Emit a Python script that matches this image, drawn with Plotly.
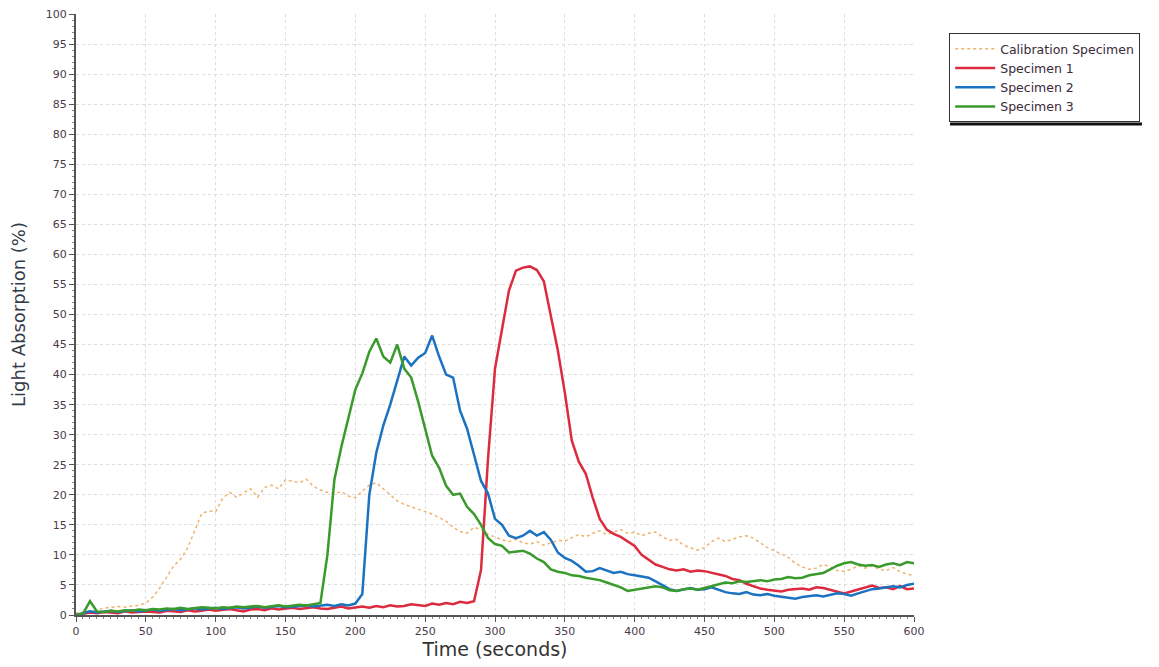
import plotly.graph_objects as go

time_s = list(range(0, 601, 5))

calibration = [0.3, 0.5, 0.8, 1.0, 1.2, 1.3, 1.4, 1.3, 1.5, 1.6,
               2.0, 3.0, 4.5, 6.3, 8.2, 9.3, 11.2, 14.0, 16.9, 17.3,
               17.2, 19.4, 20.4, 19.6, 20.3, 21.0, 19.6, 21.2, 21.6, 21.0,
               22.5, 22.2, 22.0, 22.6, 21.4, 20.8, 20.4, 20.2, 20.5, 19.8,
               19.5, 20.6, 21.6, 22.0, 21.0, 20.0, 19.0, 18.4, 18.0, 17.6,
               17.1, 16.8, 16.2, 15.6, 14.6, 13.9, 13.6, 14.6, 14.2, 13.4,
               13.0, 12.5, 12.2, 12.6, 12.0, 11.8, 12.2, 11.6, 12.0, 12.4,
               12.3, 12.8, 13.4, 13.0, 13.6, 14.0, 13.4, 13.8, 14.2, 13.6,
               13.8, 13.2, 13.6, 13.8, 13.0, 12.4, 12.6, 11.6, 11.2, 10.8,
               11.2, 12.2, 12.8, 12.2, 12.6, 13.0, 13.2, 12.8, 12.0, 11.2,
               10.7, 10.2, 9.6, 8.6, 8.0, 7.6, 7.8, 8.4, 8.0, 7.4,
               7.3, 7.6, 8.2, 7.8, 8.2, 7.6, 7.4, 7.9, 7.2, 6.8,
               6.6]

specimen1 = [0.0, 0.2, 0.4, 0.3, 0.5, 0.4, 0.3, 0.6, 0.4, 0.5,
             0.6, 0.5, 0.4, 0.7, 0.6, 0.5, 0.8, 0.6, 0.7, 0.9,
             0.7, 0.8, 1.0, 0.8, 0.6, 0.9, 1.0, 0.8, 1.1, 0.9,
             1.0, 1.2, 1.0, 1.1, 1.3, 1.1, 1.0, 1.2, 1.4, 1.1,
             1.3, 1.4, 1.2, 1.5, 1.3, 1.6, 1.4, 1.5, 1.8, 1.6,
             1.5, 1.9, 1.7, 2.0, 1.8, 2.2, 2.0, 2.3, 7.5, 26.0,
             41.0, 47.5, 54.0, 57.3, 57.8, 58.0, 57.4, 55.5, 49.5, 44.0,
             37.0, 29.0, 25.5, 23.5, 19.5, 16.0, 14.2, 13.5, 13.0, 12.2,
             11.5, 10.0, 9.2, 8.4, 8.0, 7.6, 7.4, 7.6, 7.2, 7.4,
             7.3, 7.0, 6.8, 6.5, 6.0, 5.8, 5.2, 4.8, 4.4, 4.2,
             4.0, 3.9, 4.2, 4.3, 4.4, 4.2, 4.6, 4.5, 4.2, 3.8,
             3.6, 3.9, 4.2, 4.6, 4.9, 4.5, 4.6, 4.3, 4.8, 4.3,
             4.4]

specimen2 = [0.0, 0.3, 0.6, 0.4, 0.5, 0.7, 0.5, 0.6, 0.8, 0.6,
             0.7, 0.9, 0.7, 0.8, 1.0, 0.8, 0.9, 1.1, 0.9, 1.0,
             1.2, 1.0, 1.1, 1.3, 1.1, 1.2, 1.4, 1.2, 1.3, 1.5,
             1.3, 1.4, 1.5, 1.6, 1.4, 1.6, 1.7, 1.5, 1.8, 1.6,
             1.9, 3.5, 20.0, 27.0, 31.5, 35.0, 39.0, 43.0, 41.5, 42.8,
             43.6, 46.5, 43.0, 40.0, 39.5, 34.0, 31.0, 26.8, 22.3, 20.2,
             16.0, 15.0, 13.2, 12.8, 13.2, 14.0, 13.2, 13.8, 12.5, 10.4,
             9.5, 9.0, 8.2, 7.2, 7.3, 7.8, 7.4, 7.0, 7.2, 6.8,
             6.6, 6.4, 6.2, 5.6, 5.0, 4.3, 4.0, 4.2, 4.5, 4.2,
             4.3, 4.6, 4.2, 3.8, 3.6, 3.5, 3.8, 3.4, 3.3, 3.5,
             3.2, 3.0, 2.8, 2.7, 3.0, 3.2, 3.3, 3.1, 3.4, 3.6,
             3.5, 3.2, 3.6, 4.0, 4.3, 4.4, 4.6, 4.8, 4.6, 5.0,
             5.2]

specimen3 = [0.0, 0.2, 2.3, 0.6, 0.5, 0.7, 0.6, 0.8, 0.7, 0.9,
             0.8, 1.0, 0.9, 1.1, 1.0, 1.2, 1.0, 1.1, 1.3, 1.2,
             1.1, 1.3, 1.2, 1.4, 1.3, 1.4, 1.5, 1.3, 1.5, 1.6,
             1.4, 1.6, 1.7, 1.6, 1.8, 2.0, 10.0, 22.5, 28.0, 33.0,
             37.5, 40.2, 43.8, 46.0, 43.0, 42.0, 45.0, 41.0, 39.5, 35.5,
             31.0, 26.5, 24.5, 21.5, 20.0, 20.2, 18.0, 16.8, 15.0, 12.8,
             11.8, 11.5, 10.4, 10.6, 10.7, 10.2, 9.4, 8.8, 7.6, 7.2,
             7.0, 6.6, 6.5, 6.2, 6.0, 5.8, 5.4, 5.0, 4.6, 4.0,
             4.2, 4.3, 4.5, 4.8, 4.6, 4.1, 4.0, 4.3, 4.4, 4.2,
             4.5, 4.8, 5.2, 5.4, 5.3, 5.6, 5.5, 5.7, 5.8, 5.6,
             5.9, 6.0, 6.3, 6.1, 6.2, 6.6, 6.8, 7.0, 7.6, 8.2,
             8.6, 8.8, 8.4, 8.2, 8.3, 8.0, 8.4, 8.6, 8.3, 8.8,
             8.6]

series_names = ["Calibration Specimen", "Specimen 1", "Specimen 2", "Specimen 3"]
x_ticks = list(range(0, 601, 50))
y_ticks = list(range(0, 101, 5))

fig = go.Figure()
fig.add_trace(go.Scatter(x=time_s, y=calibration, mode="lines", name=series_names[0],
                         line=dict(color="#efb36e", width=1.5, dash="dot")))
fig.add_trace(go.Scatter(x=time_s, y=specimen1, mode="lines", name=series_names[1],
                         line=dict(color="#dc2a3e", width=2.5)))
fig.add_trace(go.Scatter(x=time_s, y=specimen2, mode="lines", name=series_names[2],
                         line=dict(color="#1b72c0", width=2.5)))
fig.add_trace(go.Scatter(x=time_s, y=specimen3, mode="lines", name=series_names[3],
                         line=dict(color="#3a9a2c", width=2.5)))

axis_common = dict(
    showgrid=True, gridcolor="#dddddd", griddash="dot", gridwidth=1,
    zeroline=False, showline=True, linecolor="#555555", linewidth=2,
    ticks="outside", ticklen=5, tickcolor="#555555",
    ticklabeloverflow="allow", automargin=False,
    tickfont=dict(family="DejaVu Sans", size=11, color="#4a3b4a"),
)

fig.update_xaxes(range=[0, 600], tickvals=x_ticks,
                 title=dict(text="Time (seconds)", font=dict(family="DejaVu Sans", size=19, color="#333333"), standoff=5),
                 minor=dict(ticks="outside", ticklen=2, dtick=5, tickcolor="#888888", showgrid=False),
                 **axis_common)
fig.update_yaxes(range=[0, 100], tickvals=y_ticks,
                 title=dict(text="Light Absorption (%)", font=dict(family="DejaVu Sans", size=18, color="#333a48"), standoff=16),
                 minor=dict(ticks="outside", ticklen=2, dtick=1, tickcolor="#888888", showgrid=False),
                 **axis_common)

fig.update_layout(
    width=1159, height=667,
    margin=dict(l=68, r=253, t=6, b=60),
    paper_bgcolor="white", plot_bgcolor="white",
    font=dict(family="DejaVu Sans", color="#333333"),
    legend=dict(x=1.042, y=0.968, xanchor="left", yanchor="top",
                bordercolor="#333333", borderwidth=1, bgcolor="white",
                font=dict(family="DejaVu Sans", size=12.5, color="#3a2a3a"),
                tracegroupgap=0, itemwidth=40),
    shapes=[dict(type="line", xref="paper", yref="paper",
                 x0=1.043, x1=1.272, y0=0.817, y1=0.817,
                 line=dict(color="#111111", width=3))],
)

fig.write_html("out.html")
